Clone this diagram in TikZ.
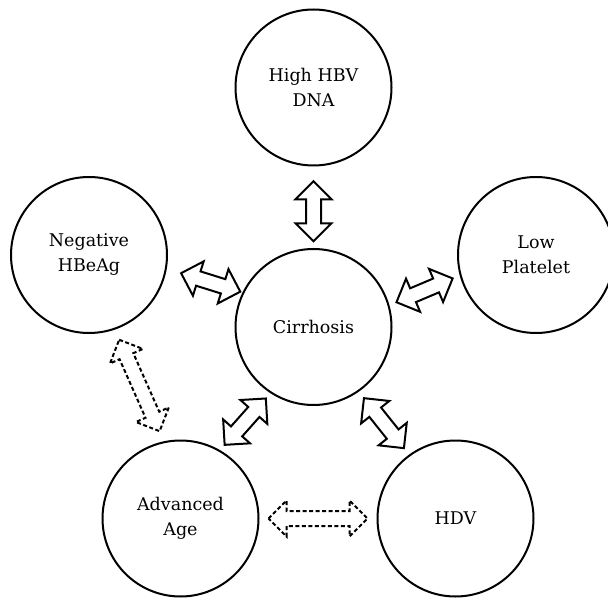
\documentclass[tikz,border=0pt]{standalone}
\usepackage{fontspec}
\setmainfont{DejaVu Serif}
\usepackage{tikz}
\usetikzlibrary{positioning,calc}

\tikzset{
    pics/dblarrow/.style={code={
        \draw[link] (-#1/2,0) -- (-#1/2+18,18) -- (-#1/2+18,7.5) -- (#1/2-18,7.5) -- (#1/2-18,18)
            -- (#1/2,0) -- (#1/2-18,-18) -- (#1/2-18,-7.5) -- (-#1/2+18,-7.5) -- (-#1/2+18,-18) -- cycle;
    }}
}

\begin{document}
\begin{tikzpicture}[x=1pt, y=1pt,
    factor/.style={circle, draw, line width=2pt, minimum size=156pt, inner sep=0pt, align=center, font=\fontsize{17.5}{25}\selectfont},
    link/.style={line width=2pt, line join=miter, fill=white},
    dlink/.style={dash pattern=on 4pt off 2.5pt, line width=1.7pt}
]
    \useasboundingbox (0,0) rectangle (608,598);

    \node[factor] (hbv) at (313.5,510.5) {High HBV\\DNA};
    \node[factor] (neg) at (89,343) {Negative\\HBeAg};
    \node[factor] (low) at (536,343) {Low\\Platelet};
    \node[factor] (cirr) at (313.5,271) {Cirrhosis};
    \node[factor] (age) at (180.5,79.5) {Advanced\\Age};
    \node[factor] (hdv) at (455.5,79.5) {HDV};

    % solid links to cirrhosis
    \path (hbv.south) -- (cirr.north) pic[pos=0.55, sloped] {dblarrow=60};
    \path (neg.-10) -- (cirr.154) pic[pos=0.58, sloped] {dblarrow=62};
    \path (cirr.16) -- (low.195) pic[pos=0.5, sloped] {dblarrow=61};
    \path (age.60) -- (cirr.237) pic[pos=0.5, sloped] {dblarrow=62};
    \path (cirr.-55) -- (hdv.126) pic[pos=0.5, sloped] {dblarrow=64};

    % dashed links
    \path (neg.-71) -- (age.102) pic[pos=0.5, sloped, dlink] {dblarrow=100};
    \path (age.east) -- (hdv.west) pic[pos=0.5, sloped, dlink] {dblarrow=99};
\end{tikzpicture}
\end{document}
